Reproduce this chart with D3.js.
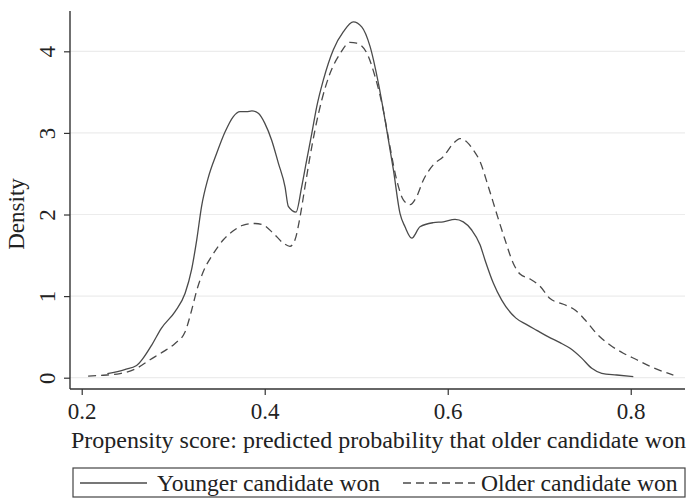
<!DOCTYPE html>
<html>
<head>
<meta charset="utf-8">
<script src="https://cdn.jsdelivr.net/npm/d3@7"></script>
<style>
  body { margin: 0; background: #fff; }
  text { font-family: "Liberation Serif", "Times New Roman", serif; fill: #222; }
</style>
</head>
<body>
<script>
// --- Data ---
const xTicks = [0.2, 0.4, 0.6, 0.8];
const yTicks = [0, 1, 2, 3, 4];

const youngerX = [0.228, 0.247, 0.260, 0.267, 0.2765, 0.287, 0.302, 0.313, 0.320, 0.3257, 0.331, 0.338, 0.3475,
  0.3566, 0.3657, 0.373, 0.380, 0.386, 0.393, 0.400, 0.4076, 0.4149, 0.4222, 0.4258, 0.4342, 0.4404, 0.4459,
  0.4514, 0.4568, 0.4641, 0.475, 0.486, 0.4968, 0.506, 0.5151, 0.5242, 0.5333, 0.5406, 0.5479, 0.5533, 0.5607,
  0.5697, 0.5843, 0.5952, 0.608, 0.617, 0.6262, 0.6353, 0.6408, 0.6498, 0.659, 0.6746, 0.6863, 0.6973, 0.710,
  0.7227, 0.7337, 0.7464, 0.7574, 0.7683, 0.7847, 0.8028];
const youngerY = [0.05, 0.10, 0.15, 0.237, 0.40, 0.605, 0.81, 1.034, 1.32, 1.69, 2.10, 2.44, 2.75,
  3.01, 3.20, 3.26, 3.26, 3.27, 3.24, 3.12, 2.91, 2.63, 2.34, 2.10, 2.03, 2.34, 2.67,
  2.99, 3.32, 3.65, 4.02, 4.24, 4.36, 4.30, 4.06, 3.61, 3.04, 2.55, 2.01, 1.85, 1.71,
  1.85, 1.90, 1.91, 1.94, 1.91, 1.81, 1.63, 1.44, 1.16, 0.95, 0.73, 0.65, 0.58, 0.50,
  0.43, 0.36, 0.24, 0.115, 0.054, 0.033, 0.012];

const olderX = [0.207, 0.2236, 0.2419, 0.260, 0.2746, 0.2892, 0.302, 0.3129, 0.3202, 0.3257, 0.3329, 0.3438,
  0.3548, 0.3657, 0.3766, 0.3894, 0.3985, 0.4094, 0.4203, 0.4276, 0.4331, 0.4386, 0.444, 0.4495, 0.455,
  0.4623, 0.4714, 0.4823, 0.4932, 0.5005, 0.5115, 0.5206, 0.5296, 0.5369, 0.5443, 0.5515, 0.5588, 0.5661,
  0.5733, 0.5843, 0.5952, 0.6061, 0.6134, 0.6208, 0.628, 0.6353, 0.6444, 0.6535, 0.6626, 0.6717, 0.679,
  0.690, 0.7009, 0.7118, 0.7264, 0.7391, 0.750, 0.7628, 0.7774, 0.7919, 0.8066, 0.8211, 0.8356, 0.8466];
const olderY = [0.02, 0.03, 0.05, 0.115, 0.22, 0.32, 0.42, 0.56, 0.83, 1.07, 1.30, 1.52,
  1.69, 1.80, 1.87, 1.89, 1.87, 1.77, 1.65, 1.61, 1.69, 1.97, 2.34, 2.71, 3.04,
  3.40, 3.73, 3.97, 4.11, 4.10, 3.98, 3.69, 3.28, 2.83, 2.42, 2.18, 2.12, 2.22,
  2.42, 2.61, 2.71, 2.87, 2.93, 2.89, 2.79, 2.65, 2.34, 2.01, 1.69, 1.40, 1.27,
  1.21, 1.12, 0.97, 0.90, 0.83, 0.71, 0.54, 0.40, 0.30, 0.22, 0.14, 0.074, 0.033];

const seriesNames = ["Younger candidate won", "Older candidate won"];

// --- Layout ---
const W = 687, H = 499;
const LEFT = 70, RIGHT = 685, TOP = 11, BOTTOM = 389;
const LINE_COLOR = "#4a4a4a";
const DASH = "8,5";

const svg = d3.select("body").append("svg")
  .attr("width", W).attr("height", H);

const x = d3.scaleLinear().domain([0.1872, 0.8593]).range([LEFT, RIGHT]);
const y = d3.scaleLinear().domain([-0.1385, 4.494]).range([BOTTOM, TOP]);

// Gridlines
svg.append("g")
  .selectAll("line")
  .data(yTicks)
  .join("line")
  .attr("x1", LEFT).attr("x2", RIGHT)
  .attr("y1", d => y(d)).attr("y2", d => y(d))
  .attr("stroke", "#ececec").attr("stroke-width", 1.2);

// Curves
const line = d3.line()
  .x(d => x(d[0])).y(d => y(d[1]))
  .curve(d3.curveMonotoneX);

svg.append("path")
  .datum(d3.zip(youngerX, youngerY))
  .attr("d", line)
  .attr("fill", "none").attr("stroke", LINE_COLOR).attr("stroke-width", 1.3);

svg.append("path")
  .datum(d3.zip(olderX, olderY))
  .attr("d", line)
  .attr("fill", "none").attr("stroke", LINE_COLOR).attr("stroke-width", 1.3)
  .attr("stroke-dasharray", DASH);

// Axes
const xAxis = svg.append("g")
  .attr("transform", `translate(0,${BOTTOM})`)
  .call(d3.axisBottom(x).tickValues(xTicks).tickSize(6).tickPadding(6).tickFormat(d3.format(".1f")));
xAxis.select(".domain").attr("d", `M${LEFT},0H${RIGHT}`);

const yAxis = svg.append("g")
  .attr("transform", `translate(${LEFT},0)`)
  .call(d3.axisLeft(y).tickValues(yTicks).tickSize(6).tickFormat(d3.format("d")));
yAxis.select(".domain").attr("d", `M0,${TOP}V${BOTTOM}`);

svg.selectAll(".domain").attr("stroke", "#333").attr("stroke-width", 1.4);
svg.selectAll(".tick line").attr("stroke", "#333").attr("stroke-width", 1.2);
svg.selectAll(".tick text")
  .attr("font-family", "Liberation Serif, Times New Roman, serif")
  .attr("font-size", 23).attr("fill", "#222");

xAxis.selectAll(".tick text").attr("dy", null).attr("y", 30);
yAxis.selectAll(".tick text")
  .attr("x", null).attr("y", null).attr("dy", null)
  .attr("text-anchor", "middle")
  .attr("transform", "translate(-15,0) rotate(-90)");

// Axis titles
svg.append("text")
  .attr("x", (LEFT + RIGHT) / 2 + 1).attr("y", 448)
  .attr("text-anchor", "middle").attr("font-size", 24)
  .text("Propensity score: predicted probability that older candidate won");

svg.append("text")
  .attr("transform", `translate(24,214) rotate(-90)`)
  .attr("text-anchor", "middle").attr("font-size", 23)
  .text("Density");

// Legend
const legend = svg.append("g");
legend.append("rect")
  .attr("x", 73).attr("y", 468).attr("width", 612).attr("height", 29)
  .attr("fill", "none").attr("stroke", "#444").attr("stroke-width", 1.2);

const items = [
  { name: seriesNames[0], x1: 80, x2: 147, tx: 157, dash: null },
  { name: seriesNames[1], x1: 403, x2: 475, tx: 481, dash: DASH }
];
items.forEach(it => {
  legend.append("line")
    .attr("x1", it.x1).attr("x2", it.x2).attr("y1", 483).attr("y2", 483)
    .attr("stroke", LINE_COLOR).attr("stroke-width", 1.3)
    .attr("stroke-dasharray", it.dash);
  legend.append("text")
    .attr("x", it.tx).attr("y", 491).attr("font-size", 23.6)
    .text(it.name);
});
</script>
</body>
</html>
